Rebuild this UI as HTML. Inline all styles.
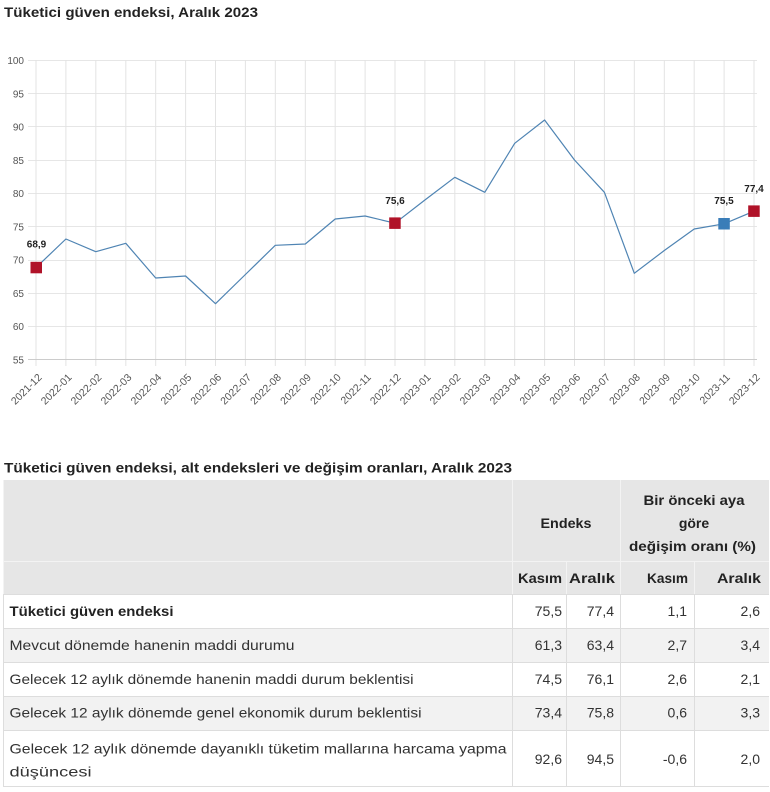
<!DOCTYPE html>
<html>
<head>
<meta charset="utf-8">
<style>
  html,body{margin:0;padding:0;background:#fff;}
  svg{display:block;}
  text{font-family:"Liberation Sans", sans-serif;}
</style>
</head>
<body>
<svg width="770" height="792" viewBox="0 0 770 792" xmlns="http://www.w3.org/2000/svg">
  <rect x="0" y="0" width="770" height="792" fill="#fff"/>

  <!-- Title 1 -->
  <text x="4" y="17" font-size="14" font-weight="bold" fill="#222" textLength="254" lengthAdjust="spacingAndGlyphs">Tüketici güven endeksi, Aralık 2023</text>

  <!-- horizontal gridlines -->
  <g stroke="#e6e6e6" stroke-width="1">
    <line x1="28" y1="60.5" x2="757" y2="60.5"/>
    <line x1="28" y1="93.5" x2="757" y2="93.5"/>
    <line x1="28" y1="126.5" x2="757" y2="126.5"/>
    <line x1="28" y1="160.5" x2="757" y2="160.5"/>
    <line x1="28" y1="193.5" x2="757" y2="193.5"/>
    <line x1="28" y1="226.5" x2="757" y2="226.5"/>
    <line x1="28" y1="260.5" x2="757" y2="260.5"/>
    <line x1="28" y1="293.5" x2="757" y2="293.5"/>
    <line x1="28" y1="326.5" x2="757" y2="326.5"/>
  </g>
  <!-- vertical gridlines -->
  <g stroke="#e3e3e3" stroke-width="1">
    <line x1="36" y1="60" x2="36" y2="366"/>
    <line x1="65.9" y1="60" x2="65.9" y2="366"/>
    <line x1="95.8" y1="60" x2="95.8" y2="366"/>
    <line x1="125.8" y1="60" x2="125.8" y2="366"/>
    <line x1="155.7" y1="60" x2="155.7" y2="366"/>
    <line x1="185.6" y1="60" x2="185.6" y2="366"/>
    <line x1="215.5" y1="60" x2="215.5" y2="366"/>
    <line x1="245.4" y1="60" x2="245.4" y2="366"/>
    <line x1="275.3" y1="60" x2="275.3" y2="366"/>
    <line x1="305.3" y1="60" x2="305.3" y2="366"/>
    <line x1="335.2" y1="60" x2="335.2" y2="366"/>
    <line x1="365.1" y1="60" x2="365.1" y2="366"/>
    <line x1="395" y1="60" x2="395" y2="366"/>
    <line x1="424.9" y1="60" x2="424.9" y2="366"/>
    <line x1="454.8" y1="60" x2="454.8" y2="366"/>
    <line x1="484.8" y1="60" x2="484.8" y2="366"/>
    <line x1="514.7" y1="60" x2="514.7" y2="366"/>
    <line x1="544.6" y1="60" x2="544.6" y2="366"/>
    <line x1="574.5" y1="60" x2="574.5" y2="366"/>
    <line x1="604.4" y1="60" x2="604.4" y2="366"/>
    <line x1="634.3" y1="60" x2="634.3" y2="366"/>
    <line x1="664.3" y1="60" x2="664.3" y2="366"/>
    <line x1="694.2" y1="60" x2="694.2" y2="366"/>
    <line x1="724.1" y1="60" x2="724.1" y2="366"/>
    <line x1="754" y1="60" x2="754" y2="366"/>
  </g>
  <!-- x axis line -->
  <line x1="28" y1="359.5" x2="757" y2="359.5" stroke="#cccccc" stroke-width="1"/>

  <!-- y labels -->
  <g font-size="10" fill="#555" text-anchor="end">
    <text x="24" y="64">100</text>
    <text x="24" y="97.5">95</text>
    <text x="24" y="130.5">90</text>
    <text x="24" y="164">85</text>
    <text x="24" y="197">80</text>
    <text x="24" y="230.5">75</text>
    <text x="24" y="263.5">70</text>
    <text x="24" y="297">65</text>
    <text x="24" y="330">60</text>
    <text x="24" y="363.5">55</text>
  </g>

  <!-- x labels -->
  <g font-size="10.5" fill="#555" text-anchor="end">
    <text transform="translate(42.5,378) rotate(-45)">2021-12</text>
    <text transform="translate(72.4,378) rotate(-45)">2022-01</text>
    <text transform="translate(102.3,378) rotate(-45)">2022-02</text>
    <text transform="translate(132.3,378) rotate(-45)">2022-03</text>
    <text transform="translate(162.2,378) rotate(-45)">2022-04</text>
    <text transform="translate(192.1,378) rotate(-45)">2022-05</text>
    <text transform="translate(222,378) rotate(-45)">2022-06</text>
    <text transform="translate(251.9,378) rotate(-45)">2022-07</text>
    <text transform="translate(281.8,378) rotate(-45)">2022-08</text>
    <text transform="translate(311.8,378) rotate(-45)">2022-09</text>
    <text transform="translate(341.7,378) rotate(-45)">2022-10</text>
    <text transform="translate(371.6,378) rotate(-45)">2022-11</text>
    <text transform="translate(401.5,378) rotate(-45)">2022-12</text>
    <text transform="translate(431.4,378) rotate(-45)">2023-01</text>
    <text transform="translate(461.3,378) rotate(-45)">2023-02</text>
    <text transform="translate(491.3,378) rotate(-45)">2023-03</text>
    <text transform="translate(521.2,378) rotate(-45)">2023-04</text>
    <text transform="translate(551.1,378) rotate(-45)">2023-05</text>
    <text transform="translate(581,378) rotate(-45)">2023-06</text>
    <text transform="translate(610.9,378) rotate(-45)">2023-07</text>
    <text transform="translate(640.8,378) rotate(-45)">2023-08</text>
    <text transform="translate(670.8,378) rotate(-45)">2023-09</text>
    <text transform="translate(700.7,378) rotate(-45)">2023-10</text>
    <text transform="translate(730.6,378) rotate(-45)">2023-11</text>
    <text transform="translate(760.5,378) rotate(-45)">2023-12</text>
  </g>

  <!-- series line -->
  <polyline fill="none" stroke="#4f84b3" stroke-width="1.2" stroke-linejoin="round"
    points="36,267.6 65.9,239 95.8,251.7 125.8,243.3 155.7,278 185.6,276 215.5,303.7 245.4,274.5 275.3,245.3 305.3,244 335.2,219 365.1,216 395,223.2 424.9,200 454.8,177.3 484.8,192.3 514.7,143.3 544.6,120 574.5,160 604.4,192.3 634.3,273.3 664.3,250.5 694.2,229 724.1,223.8 754,211.2"/>

  <!-- markers -->
  <rect x="30.5" y="261.8" width="11.5" height="11.5" fill="#b01228"/>
  <rect x="389.2" y="217.4" width="11.5" height="11.5" fill="#b01228"/>
  <rect x="718.3" y="218" width="11.5" height="11.5" fill="#3a7db8"/>
  <rect x="748.2" y="205.4" width="11.5" height="11.5" fill="#b01228"/>

  <!-- data labels -->
  <g font-size="10" font-weight="bold" fill="#222" text-anchor="middle">
    <text x="36.5" y="247.5">68,9</text>
    <text x="395" y="204.2">75,6</text>
    <text x="724" y="204.2">75,5</text>
    <text x="754" y="191.8">77,4</text>
  </g>

  <!-- Title 2 -->
  <text x="4" y="472.3" font-size="14" font-weight="bold" fill="#222" textLength="508" lengthAdjust="spacingAndGlyphs">Tüketici güven endeksi, alt endeksleri ve değişim oranları, Aralık 2023</text>

  <!-- table backgrounds -->
  <rect x="3" y="480" width="766" height="114" fill="#e6e6e6"/>
  <rect x="3" y="594" width="766" height="34" fill="#ffffff"/>
  <rect x="3" y="628" width="766" height="34" fill="#f2f2f2"/>
  <rect x="3" y="662" width="766" height="34" fill="#ffffff"/>
  <rect x="3" y="696" width="766" height="34" fill="#f2f2f2"/>
  <rect x="3" y="730" width="766" height="57" fill="#ffffff"/>

  <!-- header internal lines (lighter) -->
  <g stroke="#f3f3f3" stroke-width="1">
    <line x1="3" y1="561.5" x2="769" y2="561.5"/>
    <line x1="512.5" y1="480" x2="512.5" y2="594"/>
    <line x1="620.5" y1="480" x2="620.5" y2="594"/>
    <line x1="566.5" y1="561" x2="566.5" y2="594"/>
    <line x1="694.5" y1="561" x2="694.5" y2="594"/>
    <line x1="3.5" y1="480" x2="3.5" y2="594"/>
  </g>
  <!-- body lines -->
  <g stroke="#dddddd" stroke-width="1">
    <line x1="3" y1="594.5" x2="769" y2="594.5"/>
    <line x1="3" y1="628.5" x2="769" y2="628.5"/>
    <line x1="3" y1="662.5" x2="769" y2="662.5"/>
    <line x1="3" y1="696.5" x2="769" y2="696.5"/>
    <line x1="3" y1="730.5" x2="769" y2="730.5"/>
    <line x1="3" y1="786.5" x2="769" y2="786.5"/>
    <line x1="3.5" y1="594" x2="3.5" y2="787"/>
    <line x1="512.5" y1="594" x2="512.5" y2="787"/>
    <line x1="566.5" y1="594" x2="566.5" y2="787"/>
    <line x1="620.5" y1="594" x2="620.5" y2="787"/>
    <line x1="694.5" y1="594" x2="694.5" y2="787"/>
  </g>

  <!-- header text -->
  <g font-size="14" font-weight="bold" fill="#222">
    <text x="566" y="528" text-anchor="middle" textLength="51" lengthAdjust="spacingAndGlyphs">Endeks</text>
    <text x="694" y="505" text-anchor="middle" textLength="101" lengthAdjust="spacingAndGlyphs">Bir önceki aya</text>
    <text x="694" y="528" text-anchor="middle">göre</text>
    <text x="692.5" y="551" text-anchor="middle" textLength="127" lengthAdjust="spacingAndGlyphs">değişim oranı (%)</text>
    <text x="562" y="583" text-anchor="end" textLength="44" lengthAdjust="spacingAndGlyphs">Kasım</text>
    <text x="615" y="583" text-anchor="end" textLength="46" lengthAdjust="spacingAndGlyphs">Aralık</text>
    <text x="688" y="583" text-anchor="end" textLength="41" lengthAdjust="spacingAndGlyphs">Kasım</text>
    <text x="761" y="583" text-anchor="end" textLength="44" lengthAdjust="spacingAndGlyphs">Aralık</text>
  </g>

  <!-- row labels -->
  <text x="9.5" y="616" font-size="14" font-weight="bold" fill="#222" textLength="164" lengthAdjust="spacingAndGlyphs">Tüketici güven endeksi</text>
  <g font-size="14" fill="#333">
    <text x="9.5" y="650" textLength="285" lengthAdjust="spacingAndGlyphs">Mevcut dönemde hanenin maddi durumu</text>
    <text x="9.5" y="684" textLength="404" lengthAdjust="spacingAndGlyphs">Gelecek 12 aylık dönemde hanenin maddi durum beklentisi</text>
    <text x="9.5" y="717.5" textLength="412" lengthAdjust="spacingAndGlyphs">Gelecek 12 aylık dönemde genel ekonomik durum beklentisi</text>
    <text x="9.5" y="753.3" textLength="497" lengthAdjust="spacingAndGlyphs">Gelecek 12 aylık dönemde dayanıklı tüketim mallarına harcama yapma</text>
    <text x="9.5" y="776.5" textLength="82" lengthAdjust="spacingAndGlyphs">düşüncesi</text>
  </g>

  <!-- numbers -->
  <g font-size="14" fill="#333" text-anchor="end">
    <text x="562" y="616">75,5</text>
    <text x="614" y="616">77,4</text>
    <text x="687" y="616">1,1</text>
    <text x="760" y="616">2,6</text>

    <text x="562" y="650">61,3</text>
    <text x="614" y="650">63,4</text>
    <text x="687" y="650">2,7</text>
    <text x="760" y="650">3,4</text>

    <text x="562" y="684">74,5</text>
    <text x="614" y="684">76,1</text>
    <text x="687" y="684">2,6</text>
    <text x="760" y="684">2,1</text>

    <text x="562" y="717.5">73,4</text>
    <text x="614" y="717.5">75,8</text>
    <text x="687" y="717.5">0,6</text>
    <text x="760" y="717.5">3,3</text>

    <text x="562" y="764">92,6</text>
    <text x="614" y="764">94,5</text>
    <text x="687" y="764">-0,6</text>
    <text x="760" y="764">2,0</text>
  </g>
</svg>
</body>
</html>
